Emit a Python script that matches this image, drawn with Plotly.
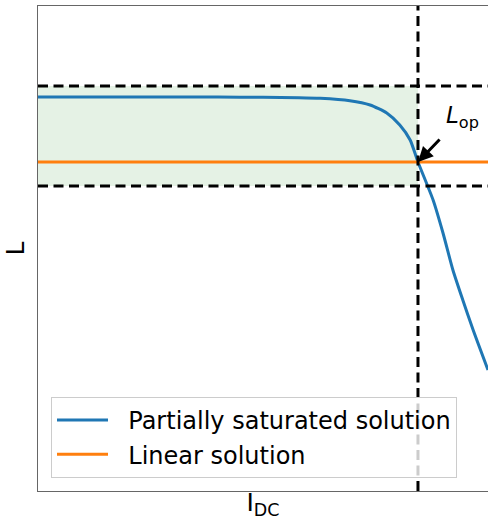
import plotly.graph_objects as go

# ---- data (normalised units) ----
i_dc = [0.0, 0.2, 0.4, 0.5, 0.58, 0.627, 0.693, 0.738, 0.775, 0.804, 0.827, 0.8444,
        0.878, 0.9, 0.922, 0.944, 0.967, 1.0]
l_partial = [0.8124, 0.8124, 0.8122, 0.8118, 0.8110, 0.8097, 0.8047, 0.7959, 0.7794,
             0.7546, 0.7237, 0.6784, 0.600, 0.532, 0.4557, 0.3938, 0.332, 0.2495]
i_linear = [0.0, 1.0]
l_linear = [0.6784, 0.6784]

x_op = 0.8444
l_op = 0.6784
l_upper = 0.835
l_lower = 0.629
arrow_tail = (0.8956, 0.7278)
label_pos = (0.9444, 0.772)

series_names = ["Partially saturated solution", "Linear solution"]
colors = ["#1f77b4", "#ff7f0e"]

pad = "\u00a0\u00a0"

fig = go.Figure()
fig.add_trace(go.Scatter(x=i_dc, y=l_partial, mode="lines", name=pad + series_names[0],
                         line=dict(color=colors[0], width=3, shape="spline", smoothing=0.6)))
fig.add_trace(go.Scatter(x=i_linear, y=l_linear, mode="lines", name=pad + series_names[1],
                         line=dict(color=colors[1], width=3)))

# shaded band
fig.add_shape(type="rect", x0=0, x1=x_op, y0=l_lower, y1=l_upper, xref="x", yref="y",
              fillcolor="rgba(0,128,0,0.1)", line=dict(width=0), layer="below")
dash = dict(color="black", width=3, dash="10px,5.5px")
fig.add_shape(type="line", xref="paper", x0=0, x1=1, yref="y", y0=l_upper, y1=l_upper,
              line=dash, layer="above")
fig.add_shape(type="line", xref="paper", x0=0, x1=1, yref="y", y0=l_lower, y1=l_lower,
              line=dash, layer="above")
fig.add_shape(type="line", xref="x", x0=x_op, x1=x_op, yref="paper", y0=0, y1=1,
              line=dash, layer="above")

# arrow + label
fig.add_annotation(x=x_op, y=l_op, ax=arrow_tail[0], ay=arrow_tail[1], axref="x", ayref="y",
                   xref="x", yref="y", text="", showarrow=True, arrowhead=2, arrowsize=1,
                   arrowwidth=3, arrowcolor="black")
fig.add_annotation(x=label_pos[0], y=label_pos[1], xref="x", yref="y",
                   text="<i>L</i><sub>op</sub>", showarrow=False,
                   font=dict(size=23, color="black", family="DejaVu Sans"))

fig.update_layout(
    width=488, height=525,
    margin=dict(l=38, r=0, t=6, b=34),
    plot_bgcolor="white", paper_bgcolor="white",
    font=dict(family="DejaVu Sans", size=24, color="black"),
    showlegend=True,
    legend=dict(x=0.0289, y=0.0268, xanchor="left", yanchor="bottom",
                bgcolor="rgba(255,255,255,0.8)", bordercolor="#cccccc", borderwidth=1,
                font=dict(size=24), itemwidth=51, tracegroupgap=0),
)
fig.update_xaxes(range=[0, 1], showgrid=False, zeroline=False, showticklabels=False,
                 ticks="", showline=True, linecolor="#666666", linewidth=1, mirror=True,
                 title=dict(text="I<sub>DC</sub>", standoff=2, font=dict(size=25)))
fig.update_yaxes(range=[0, 1], showgrid=False, zeroline=False, showticklabels=False,
                 ticks="", showline=True, linecolor="#666666", linewidth=1, mirror=False,
                 title=dict(text="L", standoff=5, font=dict(size=25)))

fig.write_html("out.html")
